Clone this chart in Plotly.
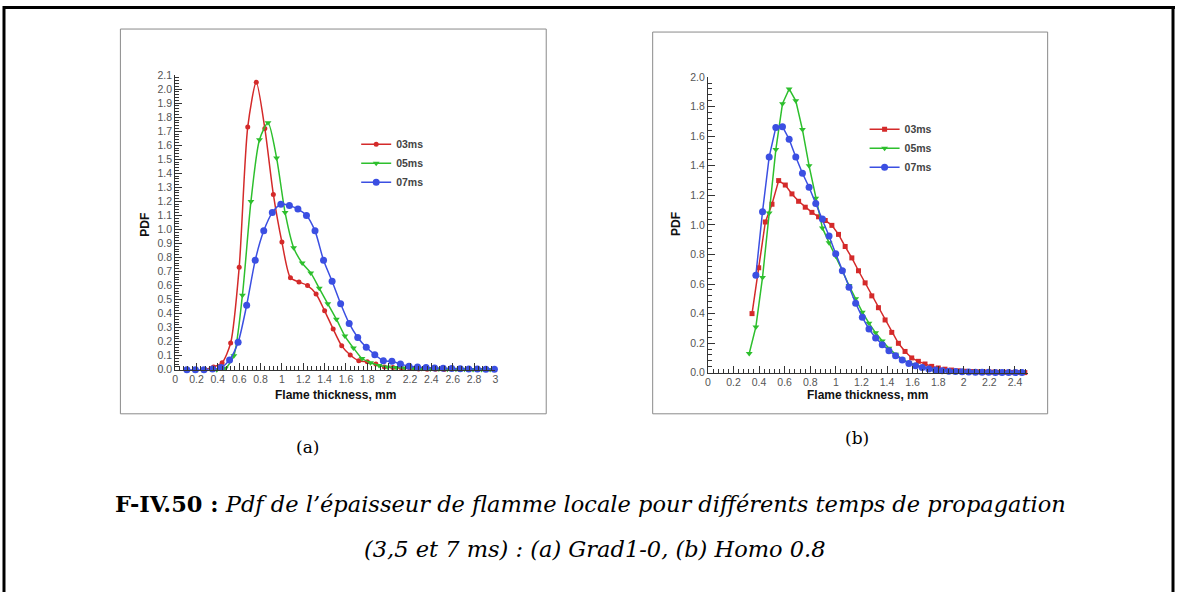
import plotly.graph_objects as go

W, H = 1178, 598

# ---- panel (a) : Grad1-0 ----
a_x_03 = [0.28, 0.36, 0.44, 0.52, 0.60, 0.68, 0.76, 0.84, 0.92, 1.00, 1.08, 1.16, 1.24, 1.32, 1.40,
          1.48, 1.56, 1.64, 1.72, 1.80, 1.88, 1.96, 2.04, 2.12, 2.20, 2.28, 2.36, 2.44, 2.52]
a_pdf_03 = [0.0, 0.02, 0.05, 0.19, 0.73, 1.73, 2.05, 1.72, 1.25, 0.91, 0.655, 0.625, 0.60, 0.54, 0.42,
            0.29, 0.17, 0.105, 0.064, 0.057, 0.04, 0.02, 0.015, 0.01, 0.008, 0.006, 0.004, 0.003, 0.002]

a_x_05 = [0.39, 0.47, 0.55, 0.63, 0.71, 0.79, 0.87, 0.95, 1.03, 1.11, 1.19, 1.27, 1.35, 1.43, 1.51,
          1.59, 1.67, 1.75, 1.83, 1.91, 1.99, 2.07, 2.15, 2.23, 2.31, 2.39, 2.47, 2.55, 2.63, 2.71,
          2.79, 2.87, 2.95]
a_pdf_05 = [0.0, 0.01, 0.1, 0.53, 1.2, 1.64, 1.76, 1.51, 1.12, 0.87, 0.76, 0.69, 0.58, 0.47, 0.36,
            0.24, 0.155, 0.08, 0.05, 0.03, 0.02, 0.015, 0.012, 0.01, 0.008, 0.006, 0.005, 0.004, 0.003, 0.003,
            0.002, 0.002, 0.001]

a_x_07 = [0.11, 0.19, 0.27, 0.35, 0.43, 0.51, 0.59, 0.67, 0.75, 0.83, 0.91, 0.99, 1.07, 1.15, 1.23,
          1.31, 1.39, 1.47, 1.55, 1.63, 1.71, 1.79, 1.87, 1.95, 2.03, 2.11, 2.19, 2.27, 2.35, 2.43,
          2.51, 2.59, 2.67, 2.75, 2.83, 2.91, 2.99]
a_pdf_07 = [0.0, 0.0, 0.0, 0.005, 0.015, 0.07, 0.195, 0.46, 0.78, 0.99, 1.12, 1.18, 1.17, 1.145, 1.10,
            0.99, 0.78, 0.63, 0.47, 0.33, 0.23, 0.16, 0.107, 0.064, 0.06, 0.04, 0.025, 0.02, 0.015, 0.012,
            0.01, 0.008, 0.007, 0.006, 0.005, 0.004, 0.004]

# ---- panel (b) : Homo 0.8 ----
b_x_03 = [0.345, 0.397, 0.449, 0.501, 0.553, 0.605, 0.657, 0.709, 0.761, 0.813, 0.865, 0.917, 0.969,
          1.021, 1.073, 1.125, 1.177, 1.229, 1.281, 1.333, 1.385, 1.437, 1.489, 1.541, 1.593, 1.645,
          1.697, 1.749, 1.801, 1.853, 1.905, 1.957, 2.009, 2.061, 2.113, 2.165, 2.217, 2.269, 2.321,
          2.373, 2.425, 2.477]
b_pdf_03 = [0.40, 0.71, 1.02, 1.14, 1.30, 1.27, 1.21, 1.16, 1.12, 1.085, 1.055, 1.03, 0.997,
            0.936, 0.854, 0.777, 0.69, 0.608, 0.52, 0.44, 0.357, 0.273, 0.199, 0.144, 0.10, 0.077,
            0.059, 0.043, 0.032, 0.024, 0.018, 0.013, 0.01, 0.008, 0.006, 0.005, 0.004, 0.003, 0.003,
            0.002, 0.002, 0.001]

b_x_05 = [0.323, 0.375, 0.427, 0.479, 0.531, 0.583, 0.635, 0.687, 0.739, 0.791, 0.843, 0.895, 0.947,
          0.999, 1.051, 1.103, 1.155, 1.207, 1.259, 1.311, 1.363, 1.415, 1.467, 1.519, 1.571, 1.623,
          1.675, 1.727, 1.779, 1.831, 1.883, 1.935, 1.987, 2.039, 2.091, 2.143, 2.195, 2.247, 2.299,
          2.351, 2.403, 2.455]
b_pdf_05 = [0.13, 0.31, 0.645, 1.08, 1.51, 1.82, 1.92, 1.84, 1.645, 1.40, 1.18, 0.98, 0.88,
            0.79, 0.69, 0.59, 0.50, 0.41, 0.335, 0.27, 0.215, 0.165, 0.125, 0.092, 0.068, 0.05,
            0.037, 0.028, 0.02, 0.015, 0.012, 0.009, 0.007, 0.006, 0.005, 0.004, 0.003, 0.003, 0.002,
            0.002, 0.001, 0.001]

b_x_07 = [0.375, 0.427, 0.479, 0.531, 0.583, 0.635, 0.687, 0.739, 0.791, 0.843, 0.895, 0.947, 0.999,
          1.051, 1.103, 1.155, 1.207, 1.259, 1.311, 1.363, 1.415, 1.467, 1.519, 1.571, 1.623, 1.675,
          1.727, 1.779, 1.831, 1.883, 1.935, 1.987, 2.039, 2.091, 2.143, 2.195, 2.247, 2.299, 2.351,
          2.403, 2.455]
b_pdf_07 = [0.66, 1.09, 1.46, 1.66, 1.665, 1.58, 1.46, 1.35, 1.255, 1.145, 1.04, 0.925, 0.805,
            0.69, 0.578, 0.47, 0.375, 0.296, 0.235, 0.19, 0.149, 0.115, 0.086, 0.063, 0.047, 0.035,
            0.026, 0.019, 0.014, 0.01, 0.008, 0.006, 0.005, 0.004, 0.003, 0.003, 0.002, 0.002, 0.001,
            0.001, 0.001]

series_names = ["03ms", "05ms", "07ms"]
series_colors = ["#d42a2a", "#2dbf2d", "#3b4fe2"]
series_sizes = [5, 6, 7]

TICK_FONT = dict(family="Liberation Sans, Arial", size=10.5, color="#555555")
TITLE_FONT = dict(family="Liberation Sans, Arial", size=12, color="#111111")

# the photographed page comes out a little shifted/squeezed vertically; compensate
Y_SHIFT, Y_SCALE = 6.0, 0.978


def px(x):
    return x / W


def py(y):
    v = 1 - ((y - Y_SHIFT) / Y_SCALE) / H
    return min(max(v, 0.0), 1.0)


fig = go.Figure()

panels = [
    ("x", "y", "legend", [(a_x_03, a_pdf_03), (a_x_05, a_pdf_05), (a_x_07, a_pdf_07)],
     0.7, ["circle", "triangle-down", "circle"]),
    ("x2", "y2", "legend2", [(b_x_03, b_pdf_03), (b_x_05, b_pdf_05), (b_x_07, b_pdf_07)],
     0, ["square", "triangle-down", "circle"]),
]
for xa, ya, leg, data, smooth, symbols in panels:
    for i, (xs, ys) in enumerate(data):
        fig.add_trace(go.Scatter(
            x=xs, y=ys, xaxis=xa, yaxis=ya, legend=leg,
            name=series_names[i], mode="lines+markers",
            line=dict(color=series_colors[i], width=1.5,
                      shape="spline" if smooth else "linear", smoothing=smooth if smooth else None),
            marker=dict(color=series_colors[i], symbol=symbols[i], size=series_sizes[i]),
            cliponaxis=False,
        ))


def axis(domain, rng, dtick, minor, fmt=None, anchor=None):
    d = dict(domain=domain, range=rng, dtick=dtick, tick0=0, ticks="inside", ticklen=7,
             tickcolor="#333", tickwidth=1, showline=True, linecolor="#333", linewidth=1,
             showgrid=False, zeroline=False, tickfont=TICK_FONT, fixedrange=True,
             minor=dict(dtick=minor, tick0=0, ticks="inside", ticklen=4, tickcolor="#333", showgrid=False),
             anchor=anchor)
    if fmt:
        d["tickformat"] = fmt
    return d


legend_style = dict(font=dict(family="Liberation Sans, Arial", size=10.5, color="#444", weight="bold"),
                    bgcolor="rgba(0,0,0,0)", tracegroupgap=0, itemwidth=30,
                    xanchor="left", yanchor="middle")

fig.update_layout(
    width=W, height=H, margin=dict(l=0, r=0, t=0, b=0),
    paper_bgcolor="white", plot_bgcolor="white",
    xaxis=axis([px(173), px(495)], [0, 3], 0.2, 0.04, anchor="y"),
    yaxis=axis([py(369), py(75)], [0, 2.1], 0.1, 0.02, ".1f", anchor="x"),
    xaxis2=axis([px(708.5), px(1030)], [0, 2.5], 0.2, 0.04, anchor="y2"),
    yaxis2=axis([py(372), py(77)], [0, 2.0], 0.2, 0.04, ".1f", anchor="x2"),
    legend=dict(x=px(355), y=py(163), **legend_style),
    legend2=dict(x=px(866), y=py(148), **legend_style),
    showlegend=True,
)

# panel frames and page border
shapes = [
    dict(type="rect", xref="paper", yref="paper", x0=px(118), x1=px(546), y0=py(413), y1=py(29),
         line=dict(color="#8a8a8a", width=1)),
    dict(type="rect", xref="paper", yref="paper", x0=px(653), x1=px(1050), y0=py(413), y1=py(32),
         line=dict(color="#8a8a8a", width=1)),
    dict(type="line", xref="paper", yref="paper", x0=0, x1=1, y0=1 - 1.5 / H, y1=1 - 1.5 / H,
         line=dict(color="black", width=3)),
    dict(type="line", xref="paper", yref="paper", x0=px(1), x1=px(1), y0=0, y1=1,
         line=dict(color="black", width=3)),
    dict(type="line", xref="paper", yref="paper", x0=px(1176), x1=px(1176), y0=0, y1=1,
         line=dict(color="black", width=3)),
]
fig.update_layout(shapes=shapes)


def label(x, y, text, font, angle=0):
    return dict(x=px(x), y=py(y), text=text, textangle=angle, showarrow=False,
                xref="paper", yref="paper", xanchor="center", yanchor="middle", font=font)


ann = []
for cx in (143, 677):
    ann.append(label(cx, 224, "<b>PDF</b>", TITLE_FONT, -90))
for cx in (334, 869):
    ann.append(label(cx, 394, "<b>Flame thickness, mm</b>", TITLE_FONT))

SERIF = dict(family="DejaVu Serif", size=17, color="black")
ann.append(label(306, 446, "(a)", SERIF))
ann.append(label(858, 437, "(b)", SERIF))
CAP = dict(family="DejaVu Serif", size=22.5, color="black")
ann.append(label(591, 503, "<b>F-IV.50 :</b> <i>Pdf de l’épaisseur de flamme locale pour différents temps de propagation</i>", CAP))
ann.append(label(595, 548, "<i>(3,5 et 7 ms) : (a) Grad1-0, (b) Homo 0.8</i>", CAP))
fig.update_layout(annotations=ann)

# pin the graph to the top-left corner of the window
pin = ("document.documentElement.style.margin='0';document.body.style.margin='0';"
       "document.body.style.overflow='hidden';"
       "var gd=document.getElementById('{plot_id}');"
       "gd.style.position='fixed';gd.style.top='0px';gd.style.left='0px';")
fig.write_html("out.html", config={"displayModeBar": False}, post_script=pin)
